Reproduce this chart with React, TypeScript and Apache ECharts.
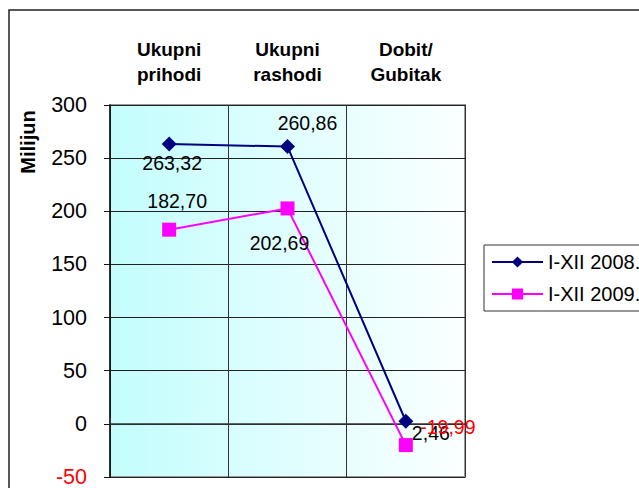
import React, { useEffect, useRef } from "react";
import * as echarts from "echarts";

const categories = ["Ukupni\nprihodi", "Ukupni\nrashodi", "Dobit/\nGubitak"];
const series2008 = [263.32, 260.86, 2.46];
const series2009 = [182.7, 202.69, -19.99];
const seriesNames = ["I-XII 2008.", "I-XII 2009."];
const labelOffsets2008: [number, number][] = [[3, 19], [20, -24], [25, 12]];
const labelOffsets2009: [number, number][] = [[8, -29], [-8, 35], [42, -18]];
const yMin = -50;
const yMax = 300;
const yStep = 50;

const FONT = "'Liberation Sans', Arial, sans-serif";
const fmt = (v: number) => v.toFixed(2).replace(".", ",");

export default function App() {
  const ref = useRef<HTMLDivElement>(null);
  useEffect(() => {
    if (!ref.current) return;
    const chart = echarts.init(ref.current, null, { renderer: "svg" });
    const mk = (vals: number[], offs: [number, number][], lastRed: boolean) =>
      vals.map((v, i) => ({
        value: v,
        label: {
          show: true,
          position: "inside",
          offset: offs[i],
          formatter: () => fmt(v),
          color: lastRed && i === vals.length - 1 ? "#ff0000" : "#000",
          fontSize: 19.5,
          fontFamily: FONT,
        },
      }));
    chart.setOption({
      animation: false,
      backgroundColor: "#fff",
      grid: {
        left: 110,
        top: 105,
        width: 355,
        height: 373,
        show: true,
        borderColor: "#999",
        borderWidth: 2,
        backgroundColor: new echarts.graphic.LinearGradient(0, 0, 1, 0, [
          { offset: 0, color: "#c4fdfd" },
          { offset: 1, color: "#fbffff" },
        ]),
      },
      graphic: [
        {
          type: "rect",
          shape: { x: 9, y: 10, width: 700, height: 520 },
          style: { fill: "none", stroke: "#222", lineWidth: 1.5 },
          silent: true,
        },
        {
          type: "text",
          x: 28,
          y: 142,
          rotation: Math.PI / 2,
          style: {
            text: "Milijun",
            fontSize: 20,
            fontWeight: "bold",
            fontFamily: FONT,
            fill: "#000",
            align: "center",
            verticalAlign: "middle",
          },
        },
      ],
      legend: {
        left: 484,
        top: 245,
        orient: "vertical",
        data: seriesNames,
        itemWidth: 51,
        itemHeight: 14,
        itemGap: 12,
        padding: [7, 40, 7, 7],
        borderColor: "#333",
        borderWidth: 1,
        backgroundColor: "#fff",
        textStyle: { fontSize: 20, fontFamily: FONT, color: "#000", lineHeight: 20 },
      },
      xAxis: {
        type: "category",
        position: "top",
        data: categories,
        boundaryGap: true,
        axisLine: { lineStyle: { color: "#333", width: 1.5 } },
        axisTick: { show: true, length: 6, inside: false, lineStyle: { color: "#333" } },
        splitLine: { show: true, lineStyle: { color: "#333", width: 1 } },
        axisLabel: {
          fontSize: 19,
          fontWeight: "bold",
          fontFamily: FONT,
          color: "#000",
          lineHeight: 25,
          margin: 18,
        },
      },
      yAxis: {
        type: "value",
        min: yMin,
        max: yMax,
        interval: yStep,
        axisLine: { show: true, lineStyle: { color: "#111", width: 1.5 } },
        axisTick: { show: true, length: 6, lineStyle: { color: "#111" } },
        splitLine: { show: true, lineStyle: { color: "#222", width: 1 } },
        axisLabel: {
          fontSize: 21.5,
          fontFamily: FONT,
          margin: 23,
          color: (v: any) => (Number(v) < 0 ? "#ff0000" : "#000"),
        },
      },
      series: [
        {
          name: seriesNames[0],
          type: "line",
          data: mk(series2008, labelOffsets2008, false),
          symbol: "diamond",
          symbolSize: 15,
          lineStyle: { color: "#000080", width: 2 },
          itemStyle: { color: "#000080" },
          z: 3,
        },
        {
          name: seriesNames[1],
          type: "line",
          data: mk(series2009, labelOffsets2009, true),
          symbol: "rect",
          symbolSize: 14,
          lineStyle: { color: "#ff00ff", width: 2 },
          itemStyle: { color: "#ff00ff" },
          z: 4,
        },
      ],
    });
    return () => chart.dispose();
  }, []);
  return (
    <div
      ref={ref}
      style={{ position: "fixed", left: 0, top: 0, width: 639, height: 488 }}
    />
  );
}
